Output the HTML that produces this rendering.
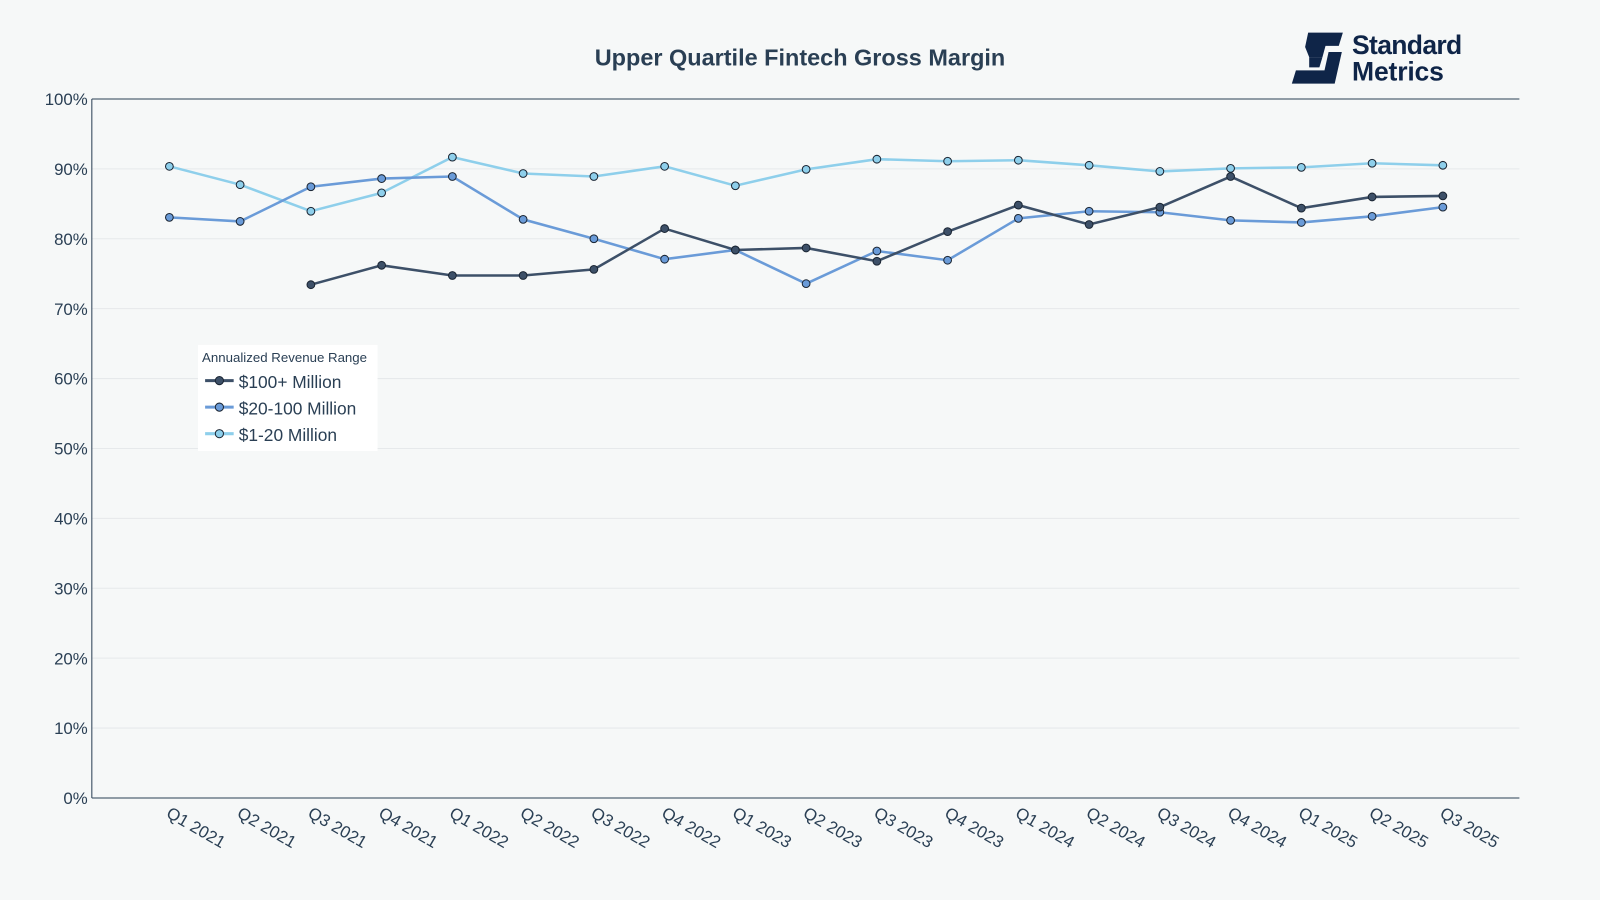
<!DOCTYPE html>
<html><head><meta charset="utf-8"><style>
body{margin:0;background:#f6f8f8;}
svg{display:block;font-family:"Liberation Sans",sans-serif;}
</style></head><body>
<svg id="s" width="1600" height="900" viewBox="0 0 1600 900">
<rect width="1600" height="900" fill="#f6f8f8"/>
<g transform="scale(1.020408)">
<text x="784" y="64" text-anchor="middle" font-size="23" font-weight="bold" fill="#2a3f54">Upper Quartile Fintech Gross Margin</text>
<g fill="#0f2548">
<polygon points="1282,32 1316,32 1312,45 1299,45 1296,56 1283,56 1279,46"/>
<polygon points="1283,56 1296,56 1293,66 1283,66"/>
<polygon points="1302,51 1315,51 1308,82 1266,82 1270,69 1298,69"/>
</g>
<text x="1325" y="53" font-size="26" font-weight="bold" fill="#0f2548" textLength="108">Standard</text>
<text x="1325" y="79" font-size="26" font-weight="bold" fill="#0f2548" textLength="90">Metrics</text>
<g id="grid"></g>
<line x1="90" y1="97" x2="1489" y2="97" stroke="#2a3f54" stroke-width="1"/>
<line x1="90" y1="97" x2="90" y2="782" stroke="#2a3f54" stroke-width="1"/>
<line x1="90" y1="782" x2="1489" y2="782" stroke="#2a3f54" stroke-width="1"/>
<g id="lines"></g>
<rect x="194" y="338" width="176" height="104" fill="#ffffff"/>
<text x="198" y="355" font-size="13" fill="#2a3f54">Annualized Revenue Range</text>
<g font-size="17" fill="#2a3f54">
<line x1="201" y1="373" x2="229" y2="373" stroke="#3d5068" stroke-width="3"/><circle cx="215" cy="373" r="4" fill="#3d5068" stroke="#1a2533"/>
<text x="234" y="380">$100+ Million</text>
<line x1="201" y1="399" x2="229" y2="399" stroke="#6a9bd8" stroke-width="3"/><circle cx="215" cy="399" r="4" fill="#6a9bd8" stroke="#1a2533"/>
<text x="234" y="406">$20-100 Million</text>
<line x1="201" y1="425" x2="229" y2="425" stroke="#8ecfeb" stroke-width="3"/><circle cx="215" cy="425" r="4" fill="#8ecfeb" stroke="#1a2533"/>
<text x="234" y="432">$1-20 Million</text>
</g>
</g>
</svg>
<script>
const ns="http://www.w3.org/2000/svg";
function el(t,a,p){const e=document.createElementNS(ns,t);for(const k in a)e.setAttribute(k,a[k]);p.appendChild(e);return e;}
const g=document.getElementById('grid'),L=document.getElementById('lines');
for(let i=0;i<=10;i++){const y=782-68.5*i;
 if(i>0&&i<10)el('line',{x1:90,y1:y,x2:1489,y2:y,stroke:'#e6e9eb','stroke-width':1},g);
 const t=el('text',{x:86,y:y+6,'text-anchor':'end','font-size':16.5,fill:'#2a3f54'},g);t.textContent=(i*10)+'%';}
const q=['Q1','Q2','Q3','Q4'];
const X=i=>166+69.333*i;
for(let i=0;i<19;i++){const lab=q[i%4]+' '+(2021+Math.floor(i/4));
 const t=el('text',{x:X(i)-4,y:800,'font-size':16.5,fill:'#2a3f54',transform:`rotate(30 ${X(i)-4} 800)`},g);t.textContent=lab;}
const S=[
 ['#8ecfeb',[163,181,207,189,154,170,173,163,182,166,156,158,157,162,168,165,164,160,162]],
 ['#6a9bd8',[213,217,183,175,173,215,234,254,245,278,246,255,214,207,208,216,218,212,203]],
 ['#3d5068',[null,null,279,260,270,270,264,224,245,243,256,227,201,220,203,173,204,193,192]]];
for(const [c,ys] of S){let pts=[];ys.forEach((y,i)=>{if(y!==null)pts.push(X(i)+','+y)});
 el('polyline',{points:pts.join(' '),fill:'none',stroke:c,'stroke-width':2.5},L);
 ys.forEach((y,i)=>{if(y!==null)el('circle',{cx:X(i),cy:y,r:3.8,fill:c,stroke:'#1a2533','stroke-width':1},L)});}
</script>
</body></html>
